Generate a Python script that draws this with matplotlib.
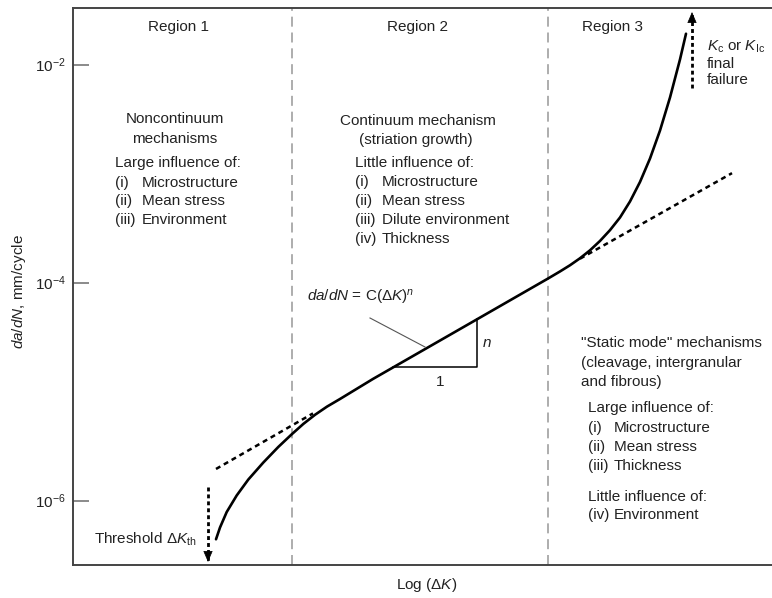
import numpy as np
import matplotlib
matplotlib.use("Agg")
import matplotlib.pyplot as plt

plt.rcParams['font.family'] = ['Liberation Sans', 'DejaVu Sans']
plt.rcParams['mathtext.fontset'] = 'custom'
plt.rcParams['mathtext.rm'] = 'Liberation Sans'
plt.rcParams['mathtext.it'] = 'Liberation Sans:italic'
plt.rcParams['mathtext.bf'] = 'Liberation Sans:bold'

# ---- crack growth curve: log(dK) (arbitrary units) vs log10(da/dN) ----
curve_logdk = [1.43, 1.47, 1.537, 1.637, 1.753, 1.903, 2.053, 2.187, 2.303, 2.42,
               2.54, 2.67, 3.0, 4.0, 4.75, 4.87, 4.97, 5.07, 5.17, 5.27, 5.37,
               5.47, 5.57, 5.67, 5.77, 5.87, 5.97, 6.07, 6.13]
curve_lograte = [-6.354, -6.246, -6.104, -5.952, -5.806, -5.650, -5.507, -5.391,
                 -5.296, -5.212, -5.137, -5.067, -4.883, -4.357, -3.962, -3.897,
                 -3.840, -3.776, -3.703, -3.617, -3.518, -3.402, -3.255, -3.076,
                 -2.861, -2.604, -2.301, -1.952, -1.716]

# Paris-law extensions (dashed)
paris_low_logdk = [1.43, 2.40]
paris_low_lograte = [-5.709, -5.199]
paris_high_logdk = [5.07, 6.59]
paris_high_lograte = [-3.780, -2.995]

# slope triangle corners
tri_logdk = [3.20, 4.04, 4.04]
tri_lograte = [-4.778, -4.778, -4.336]

# region boundaries
region_bounds = [2.19, 4.75]

# threshold and final-failure arrows (x, y_start, y_tip)
thresh_arrow = (1.35, -5.874, -6.562)
fail_arrow = (6.19, -2.214, -1.517)

ytick_exp = [-2, -4, -6]

XLIM = (0.0, 6.99)
YLIM_LOG = (-6.590, -1.480)


def v(e):
    return 10.0 ** np.asarray(e)


W, H = 772, 598
fig = plt.figure(figsize=(W / 100, H / 100), dpi=100)
ax = fig.add_axes([73 / W, (H - 565) / H, 1 - 73 / W, (565 - 8) / H])
ax.set_yscale('log')
ax.set_xlim(*XLIM)
ax.set_ylim(v(YLIM_LOG[0]), v(YLIM_LOG[1]))

spine_c = '#444444'
for s in ['left', 'top', 'bottom']:
    ax.spines[s].set_color(spine_c)
    ax.spines[s].set_linewidth(1.4)
ax.spines['right'].set_visible(False)

ax.set_xticks([])
ax.set_yticks(v(ytick_exp))
ax.set_yticklabels([r'$10^{%d}$' % e for e in ytick_exp], fontsize=11, color='#222222')
ax.yaxis.set_minor_locator(matplotlib.ticker.NullLocator())
ax.tick_params(axis='y', direction='in', length=11.5, width=1.2, color='#777777', pad=5)

txt = '#222222'

# region separators
for xb in region_bounds:
    ax.axvline(xb, color='#a0a0a0', lw=1.2, ls=(0, (6, 3.5)))

# main curve
ax.plot(curve_logdk, v(curve_lograte), color='black', lw=1.9,
        solid_capstyle='round', solid_joinstyle='round')

# dashed Paris extensions
dash = (0, (2.0, 1.6))
ax.plot(paris_low_logdk, v(paris_low_lograte), color='black', lw=1.8, ls=dash)
ax.plot(paris_high_logdk, v(paris_high_lograte), color='black', lw=1.8, ls=dash)

# slope triangle
ax.plot(tri_logdk, v(tri_lograte), color='black', lw=1.1)
ax.text(3.67, v(-4.911), '1', fontsize=11, color=txt, ha='center', va='center')
ax.text(4.14, v(-4.553), 'n', fontsize=11, color=txt, ha='center', va='center',
        style='italic')

# equation with leader
ax.plot([3.52, 2.97], [v(-4.590), v(-4.324)], color='#555555', lw=0.8)
ax.text(2.88, v(-4.132), r'$da/dN$ = C($\Delta K$)$^n$', fontsize=11, color=txt,
        ha='center', va='center')


def arrow(spec):
    x, y0, y1 = spec
    ax.plot([x, x], [v(y0), v(y1)], color='black', lw=2.0, ls=(0, (1.4, 1.1)))
    ax.annotate('', xy=(x, v(y1)), xytext=(x, v(y1 + (0.08 if y1 < y0 else -0.08))),
                arrowprops=dict(arrowstyle='-|>,head_length=0.7,head_width=0.3',
                                color='black', lw=0.5, shrinkA=0, shrinkB=0),
                annotation_clip=False)


arrow(thresh_arrow)
arrow(fail_arrow)

fs = 11


def px_text(px, py, s, ha='left', **kw):
    x = (px - 73) / 100.0
    y = -2 - (py - 64.7) / 109.0
    ax.text(x, v(y), s, fontsize=fs, color=txt, ha=ha, va='center', **kw)


# region titles
px_text(179, 27, 'Region 1', ha='center')
px_text(418, 27, 'Region 2', ha='center')
px_text(613, 27, 'Region 3', ha='center')

# region 1 notes
px_text(175, 119, 'Noncontinuum', ha='center')
px_text(175, 139, 'mechanisms', ha='center')
px_text(115, 163, 'Large influence of:')
for py, num, item in [(183, '(i)', 'Microstructure'), (201, '(ii)', 'Mean stress'),
                      (220, '(iii)', 'Environment')]:
    px_text(115, py, num)
    px_text(142, py, item)

# region 2 notes
px_text(418, 121, 'Continuum mechanism', ha='center')
px_text(416, 140, '(striation growth)', ha='center')
px_text(355, 163, 'Little influence of:')
for py, num, item in [(182, '(i)', 'Microstructure'), (201, '(ii)', 'Mean stress'),
                      (220, '(iii)', 'Dilute environment'), (239, '(iv)', 'Thickness')]:
    px_text(355, py, num)
    px_text(382, py, item)

# region 3 notes
px_text(581, 343, '"Static mode" mechanisms')
px_text(581, 363, '(cleavage, intergranular')
px_text(581, 382, 'and fibrous)')
px_text(588, 408, 'Large influence of:')
for py, num, item in [(428, '(i)', 'Microstructure'), (447, '(ii)', 'Mean stress'),
                      (466, '(iii)', 'Thickness')]:
    px_text(588, py, num)
    px_text(614, py, item)
px_text(588, 497, 'Little influence of:')
px_text(588, 515, '(iv)')
px_text(614, 515, 'Environment')

# arrow annotations
px_text(707, 47, r'$K_\mathrm{c}$ or $K_\mathrm{Ic}$')
px_text(707, 64, 'final')
px_text(707, 80, 'failure')
px_text(197, 539, r'Threshold $\Delta K_\mathrm{th}$', ha='right')

# axis labels
fig.text(427 / W, 1 - 585 / H, r'Log ($\Delta K$)', fontsize=fs, color=txt,
         ha='center', va='center')
fig.text(19 / W, 1 - 292 / H, r'$da/dN$, mm/cycle', fontsize=fs, color=txt,
         ha='center', va='center', rotation=90)

fig.savefig('out.png', dpi=100)
